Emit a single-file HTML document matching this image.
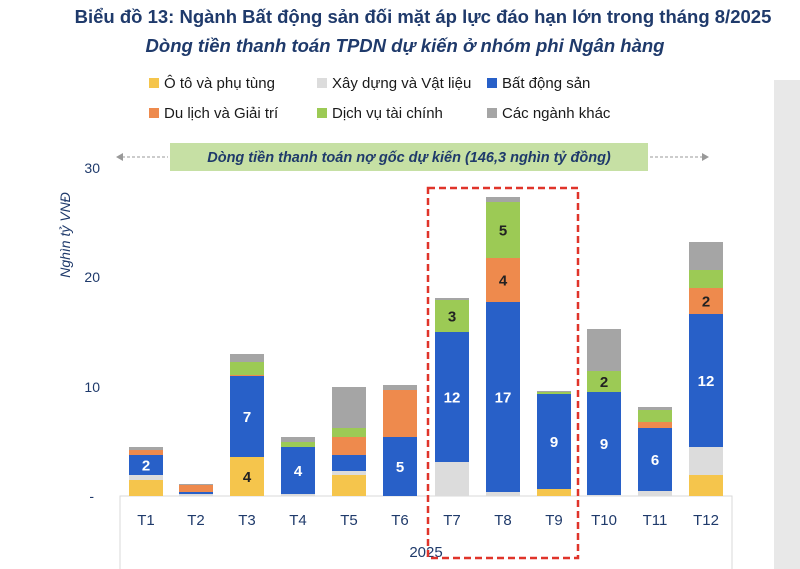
<!DOCTYPE html><html><head><meta charset="utf-8"><style>
body{margin:0;width:800px;height:569px;background:#fff;overflow:hidden;font-family:"Liberation Sans",sans-serif;position:relative}
.t{position:absolute;white-space:nowrap}
</style></head><body>
<div style="position:absolute;left:774px;top:80px;width:26px;height:489px;background:#e8e8e8"></div>
<div class="t" style="left:0;width:800px;top:6px;text-align:center;font-weight:bold;font-size:18.5px;color:#1f3a6b;padding-left:46px;box-sizing:border-box">Biểu đồ 13: Ngành Bất động sản đối mặt áp lực đáo hạn lớn trong tháng 8/2025</div>
<div class="t" style="left:0;width:800px;top:35px;text-align:center;font-weight:bold;font-style:italic;font-size:18.5px;color:#1f3a6b;padding-left:10px;box-sizing:border-box">Dòng tiền thanh toán TPDN dự kiến ở nhóm phi Ngân hàng</div>
<svg width="800" height="569" style="position:absolute;left:0;top:0" font-family="Liberation Sans, sans-serif">
<g font-size="15" fill="#1a1a1a">
<rect x="149" y="78" width="10" height="10" fill="#f5c54c"/><text x="164" y="88">Ô tô và phụ tùng</text>
<rect x="317" y="78" width="10" height="10" fill="#dcdcdc"/><text x="332" y="88">Xây dựng và Vật liệu</text>
<rect x="487" y="78" width="10" height="10" fill="#2860c8"/><text x="502" y="88">Bất động sản</text>
<rect x="149" y="108" width="10" height="10" fill="#ee8a4d"/><text x="164" y="118">Du lịch và Giải trí</text>
<rect x="317" y="108" width="10" height="10" fill="#9cca55"/><text x="332" y="118">Dịch vụ tài chính</text>
<rect x="487" y="108" width="10" height="10" fill="#a5a5a5"/><text x="502" y="118">Các ngành khác</text>
</g>
<line x1="122" y1="157" x2="168" y2="157" stroke="#999" stroke-dasharray="3,2"/><path d="M116 157 L123 153 L123 161Z" fill="#999"/>
<line x1="650" y1="157" x2="703" y2="157" stroke="#999" stroke-dasharray="3,2"/><path d="M709 157 L702 153 L702 161Z" fill="#999"/>
<rect x="170" y="143" width="478" height="28" fill="#c6e0a4"/>
<text x="409" y="162" text-anchor="middle" font-size="14.5" font-weight="bold" font-style="italic" fill="#1f3a6b">Dòng tiền thanh toán nợ gốc dự kiến (146,3 nghìn tỷ đồng)</text>
<g font-size="14" fill="#1f3a6b" text-anchor="end"><text x="100" y="173">30</text><text x="100" y="282">20</text><text x="100" y="392">10</text><text x="94" y="501">-</text></g>
<text transform="translate(70,235) rotate(-90)" text-anchor="middle" font-size="14" font-style="italic" fill="#1f3a6b">Nghìn tỷ VNĐ</text>
<path d="M120 569 V496 H732 V569" fill="none" stroke="#d9d9d9"/>
<g id="bars"></g>
<g font-size="15" fill="#1f3a6b" text-anchor="middle">
<text x="146" y="525">T1</text><text x="196" y="525">T2</text><text x="247" y="525">T3</text><text x="298" y="525">T4</text><text x="349" y="525">T5</text><text x="400" y="525">T6</text><text x="452" y="525">T7</text><text x="503" y="525">T8</text><text x="554" y="525">T9</text><text x="604" y="525">T10</text><text x="655" y="525">T11</text><text x="706" y="525">T12</text>
<text x="426" y="557">2025</text></g>
<rect x="428" y="188" width="150" height="370" fill="none" stroke="#e0342a" stroke-width="2.5" stroke-dasharray="7,4"/>
</svg>
<script>
var C=['#f5c54c','#dcdcdc','#2860c8','#ee8a4d','#9cca55','#a5a5a5'];
var D=[[146,[480,475,455,450,450,447]],[196,[496,494,492,485,485,484]],[247,[457,457,376,375,362,354]],[298,[496,494,447,447,442,437]],[349,[475,471,455,437,428,387]],[400,[496,496,437,390,390,385]],[452,[496,462,332,332,300,298]],[503,[496,492,302,258,202,197]],[554,[489,489,394,394,392,391]],[604,[496,495,392,392,371,329]],[655,[496,491,428,422,410,407]],[706,[475,447,314,288,270,242]]];
var L={146:[[2,'2','#fff']],247:[[0,'4','#222'],[2,'7','#fff']],298:[[2,'4','#fff']],400:[[2,'5','#fff']],452:[[2,'12','#fff'],[4,'3','#222']],503:[[2,'17','#fff'],[3,'4','#222'],[4,'5','#222']],554:[[2,'9','#fff']],604:[[2,'9','#fff'],[4,'2','#222']],655:[[2,'6','#fff']],706:[[2,'12','#fff'],[3,'2','#222']]};
var s='',g=document.getElementById('bars');
D.forEach(function(d){var x=d[0]-17,p=496,t=[];d[1].forEach(function(y,i){t.push([p,y]);if(p>y)s+='<rect x="'+x+'" y="'+y+'" width="34" height="'+(p-y)+'" fill="'+C[i]+'"/>';p=y;});
(L[d[0]]||[]).forEach(function(l){var a=t[l[0]];s+='<text x="'+d[0]+'" y="'+((a[0]+a[1])/2+5.5)+'" text-anchor="middle" font-size="15" font-weight="bold" fill="'+l[2]+'">'+l[1]+'</text>';});});
g.innerHTML=s;
</script>
</body></html>
